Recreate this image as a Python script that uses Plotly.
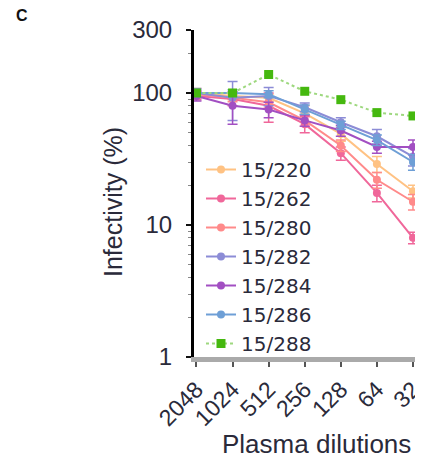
import plotly.graph_objects as go

dilutions = ["2048", "1024", "512", "256", "128", "64", "32"]

s220 = [100, 95, 92, 70, 49, 29, 18]
s262 = [95, 90, 80, 58, 35, 17.5, 8]
s280 = [98, 92, 85, 62, 40, 22, 15]
s282 = [100, 92, 95, 78, 60, 47, 33]
s284 = [95, 80, 75, 62, 52, 39, 39]
s286 = [100, 100, 98, 75, 57, 44, 30]
s288 = [100, 100, 138, 103, 89, 71, 67]

e220 = [8, 6, 6, 10, 6, 4, 2]
e262 = [6, 10, 20, 8, 4, 2.5, 0.8]
e280 = [6, 6, 8, 6, 4, 3, 2]
e282 = [8, 30, 15, 6, 5, 6, 5]
e284 = [8, 22, 10, 6, 5, 4, 5]
e286 = [6, 6, 6, 6, 4, 4, 4]
e288 = [0, 0, 0, 0, 0, 0, 0]

series = [
    ("15/220", s220, e220, "#FFC283", "circle", "solid"),
    ("15/262", s262, e262, "#F0679A", "circle", "solid"),
    ("15/280", s280, e280, "#FF8A8A", "circle", "solid"),
    ("15/282", s282, e282, "#8C8CD6", "circle", "solid"),
    ("15/284", s284, e284, "#A24FC2", "circle", "solid"),
    ("15/286", s286, e286, "#6E9FD6", "circle", "solid"),
    ("15/288", s288, e288, "#45B80F", "square", "dot"),
]

ARIAL = "Liberation Sans, Arial, sans-serif"
DEJAVU = "DejaVu Sans, sans-serif"
TXT = "#2a2a3a"

# page has 8px body margin: figure coords = page coords - 8
L, T, W, H = 186, 22, 221, 327

fig = go.Figure()
for i, (name, vals, errs, color, sym, dash) in enumerate(series):
    is_green = sym == "square"
    fig.add_trace(go.Scatter(
        x=list(range(len(dilutions))), y=vals, name=name,
        mode="lines+markers",
        legendgroup=f"g{i}",
        line=dict(color="#9ED87F" if is_green else color, width=2, dash=dash),
        marker=dict(color=color, symbol=sym, size=9 if is_green else 8, line=dict(width=0)),
        error_y=dict(type="data", array=errs, visible=not is_green, color=color,
                     thickness=1.5, width=5),
    ))

def px(xf):
    return (xf - L) / W

def py(yf):
    return (T + H - yf) / H

fig.update_layout(
    width=L + W, height=454,
    margin=dict(l=L, r=0, t=T, b=105),
    paper_bgcolor="white", plot_bgcolor="white",
    font=dict(family=ARIAL, size=24, color=TXT),
    showlegend=True,
    legend=dict(x=px(193), y=py(142), xanchor="left", yanchor="top",
                bgcolor="rgba(0,0,0,0)", font=dict(family=DEJAVU, size=20, color=TXT),
                tracegroupgap=0, itemwidth=30),
    annotations=[
        dict(text="<b>C</b>", x=px(14), y=py(7), xref="paper", yref="paper",
             xanchor="center", yanchor="middle", showarrow=False,
             font=dict(family=ARIAL, size=16, color="#111")),
        dict(text="Plasma dilutions", x=px(308), y=py(436), xref="paper", yref="paper",
             xanchor="center", yanchor="middle", showarrow=False,
             font=dict(family=ARIAL, size=26, color=TXT)),
        dict(text="Infectivity (%)", x=px(105), y=py(194), xref="paper", yref="paper",
             xanchor="center", yanchor="middle", showarrow=False, textangle=-90,
             font=dict(family=ARIAL, size=25, color=TXT)),
    ],
)

fig.update_xaxes(
    automargin=False,
    range=[-0.069, 6.056],
    tickmode="array", tickvals=list(range(len(dilutions))), ticktext=dilutions,
    tickangle=-45, ticks="outside", ticklen=5, tickwidth=2, tickcolor="#555",
    ticklabeloverflow="allow",
    tickfont=dict(family=ARIAL, size=23, color=TXT),
    showline=True, linecolor="#AAAAAA", linewidth=5, showgrid=False, zeroline=False,
)
fig.update_yaxes(
    automargin=False,
    type="log", range=[0, 2.4771],
    tickmode="array", tickvals=[1, 10, 100, 300], ticktext=["1", "10", "100", "300"],
    ticks="outside", ticklen=5, tickwidth=2, tickcolor="#111",
    ticklabelstandoff=9,
    tickfont=dict(family=ARIAL, size=24, color=TXT),
    minor=dict(ticks="outside", ticklen=3, tickcolor="#888", tickwidth=1,
               tickvals=[2, 3, 4, 5, 6, 7, 8, 9, 20, 30, 40, 50, 60, 70, 80, 90, 200]),
    showline=True, linecolor="#000", linewidth=3, showgrid=False, zeroline=False,
)

fig.write_html("out.html")
